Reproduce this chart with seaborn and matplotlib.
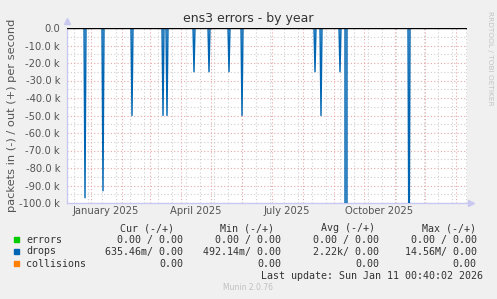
import numpy as np
import pandas as pd
import matplotlib
matplotlib.use("Agg")
import matplotlib.pyplot as plt
import matplotlib.dates as mdates
import matplotlib.ticker as mticker
from matplotlib.patches import Rectangle
import seaborn as sns

# ---------------- data ----------------
range_start = "2024-12-08"
range_end = "2026-01-12"
spike_dates = ["2024-12-26", "2025-01-13", "2025-02-11", "2025-03-14", "2025-03-18",
               "2025-04-14", "2025-04-29", "2025-05-19", "2025-06-01", "2025-08-13",
               "2025-08-19", "2025-09-07", "2025-09-13", "2025-11-15"]
spike_drops = [-97000, -93000, -50000, -50000, -50000,
               -25000, -25000, -25000, -50000, -25000,
               -50000, -25000, -14560000, -150000]
month_labels = ["January 2025", "April 2025", "July 2025", "October 2025"]
label_dates = ["2025-01-16", "2025-04-16", "2025-07-16", "2025-10-16"]

legend_names = ["errors", "drops", "collisions"]
legend_colors = ["#00cc00", "#0066b3", "#ff8000"]
col_headers = ["Cur (-/+)", "Min (-/+)", "Avg (-/+)", "Max (-/+)"]
row_values = [
    ["0.00 / 0.00", "0.00 / 0.00", "0.00 / 0.00", "0.00 / 0.00"],
    ["635.46m/ 0.00", "492.14m/ 0.00", "2.22k/ 0.00", "14.56M/ 0.00"],
    ["0.00", "0.00", "0.00", "0.00"],
]
last_update = "Last update: Sun Jan 11 00:40:02 2026"

# build daily series
days = pd.date_range(range_start, range_end, freq="D")
drops = pd.Series(0.0, index=days)
for d, v in zip(spike_dates, spike_drops):
    drops[pd.Timestamp(d)] = v
df = pd.DataFrame({"date": days, "drops": drops.values})

# ---------------- style ----------------
sns.set_theme(style="white")
plt.rcParams["font.family"] = ["DejaVu Sans"]

W, H = 497, 299
fig = plt.figure(figsize=(W / 100, H / 100), dpi=100, facecolor="#f0f0f0")

def fx(px):
    return px / W

def fy(py):
    return 1 - py / H

ax = fig.add_axes([fx(67), fy(203), 400 / W, 175 / H])
ax.set_facecolor("white")

x0 = pd.Timestamp(range_start)
x1 = pd.Timestamp(range_end)
ax.set_xlim(x0, x1)
ax.set_ylim(-100000, 0)

# grids
red = "#e8a8a8"
gray = "#cfcfcf"
for d in pd.date_range("2024-12-15", range_end, freq="14D"):
    ax.axvline(d, color=gray, lw=0.8, ls=(0, (1, 2)), zorder=1)
for v in np.arange(-95000, 0, 10000):
    ax.axhline(v, color=gray, lw=0.8, ls=(0, (1, 2)), zorder=1)
for d in pd.date_range("2025-01-01", range_end, freq="MS"):
    ax.axvline(d, color=red, lw=0.8, ls=(0, (1, 2)), zorder=2)
for v in np.arange(-100000, 1, 10000):
    ax.axhline(v, color=red, lw=0.8, ls=(0, (1, 2)), zorder=2)

# data
sns.lineplot(data=df, x="date", y="drops", ax=ax, color="#0066b3", lw=1.0, zorder=4)
ax.fill_between(df["date"], df["drops"], 0, color="#0066b3", alpha=0.35, lw=0, zorder=3)
ax.axhline(0, color="black", lw=1.0, zorder=5)

# axes formatting
ax.set_xlabel("")
ax.set_ylabel("")
fig.text(fx(12.5), fy(115.5), "packets in (-) / out (+) per second", rotation=90,
         ha="center", va="center", fontsize=8.2, color="#555555")
ax.yaxis.set_major_locator(mticker.MultipleLocator(10000))
ax.yaxis.set_major_formatter(mticker.FuncFormatter(
    lambda v, p: "0.0" if abs(v) < 1 else f"{v / 1000:.1f} k"))
ax.tick_params(axis="y", labelsize=7.2, labelcolor="#555555", length=2, color=red, pad=3)
ax.xaxis.set_major_locator(mdates.MonthLocator())
ax.xaxis.set_major_formatter(mticker.NullFormatter())
ax.tick_params(axis="x", length=2, color=red)

for lab, d in zip(month_labels, label_dates):
    ax.text(pd.Timestamp(d), -0.045, lab, transform=ax.get_xaxis_transform(),
            ha="center", va="center", fontsize=7.2, color="#555555")

for s in ["top", "right"]:
    ax.spines[s].set_visible(False)
for s in ["left", "bottom"]:
    ax.spines[s].set_color("#c8c8f0")
    ax.spines[s].set_linewidth(1.0)
ax.plot([0], [1.04], marker="^", ms=5, color="#c8c8f0", transform=ax.transAxes, clip_on=False)
ax.plot([1.01], [0], marker=">", ms=5, color="#c8c8f0", transform=ax.transAxes, clip_on=False)

# title & side text
fig.text(fx(248), fy(18.5), "ens3 errors - by year", ha="center", va="center",
         fontsize=9, color="#333333")
fig.text(fx(490), fy(58), "RRDTOOL / TOBI OETIKER", ha="center", va="center",
         rotation=270, fontsize=5.3, color="#c4c4c4")

# legend
mono = "DejaVu Sans Mono"
fs = 7.2
tc = "#333333"
hdr_x = [173.5, 274.5, 375.3, 476]
val_x = [183.2, 281.2, 379.2, 476.8]
for h, x in zip(col_headers, hdr_x):
    fig.text(fx(x), fy(228.3), h, ha="right", va="center", family=mono, fontsize=fs, color=tc)
row_y = [239.7, 251.5, 263.7]
for name, col, vals, y in zip(legend_names, legend_colors, row_values, row_y):
    fig.patches.append(Rectangle((fx(14), fy(y + 2.4)), 5 / W, 5 / H,
                                 transform=fig.transFigure, color=col))
    fig.text(fx(26), fy(y), name, ha="left", va="center", family=mono, fontsize=fs, color=tc)
    for v, x in zip(vals, val_x):
        fig.text(fx(x), fy(y), v, ha="right", va="center", family=mono, fontsize=fs, color=tc)
fig.text(fx(482.8), fy(276), last_update, ha="right", va="center", family=mono, fontsize=fs, color=tc)
fig.text(fx(248), fy(288), "Munin 2.0.76", ha="center", va="center", fontsize=5.5, color="#c0c0c0")

fig.savefig("out.png", dpi=100, facecolor=fig.get_facecolor())
